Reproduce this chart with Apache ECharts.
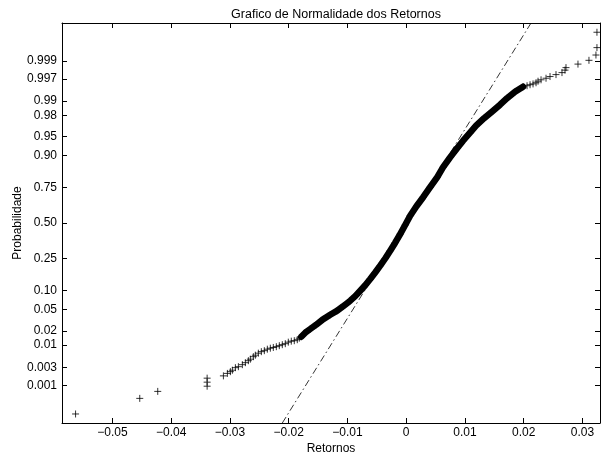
<!DOCTYPE html>
<html>
<head>
<meta charset="utf-8">
<script src="https://cdn.jsdelivr.net/npm/echarts@6/dist/echarts.min.js"></script>
<style>
html,body{margin:0;padding:0;background:#fff;}
#chart{width:601px;height:454px;}
</style>
</head>
<body>
<div id="chart"></div>
<script>
// ---- tick labels ----
const probTicks = [0.001, 0.003, 0.01, 0.02, 0.05, 0.10, 0.25, 0.50, 0.75, 0.90, 0.95, 0.98, 0.99, 0.997, 0.999];
const probLabels = ['0.001', '0.003', '0.01', '0.02', '0.05', '0.10', '0.25', '0.50', '0.75', '0.90', '0.95', '0.98', '0.99', '0.997', '0.999'];
const returnTicks = [-0.05, -0.04, -0.03, -0.02, -0.01, 0, 0.01, 0.02, 0.03];

// ---- data: returns (x) and normal quantiles (y) ----
const lowerTailReturns = [-0.05629, -0.04536, -0.04230, -0.03389, -0.03389, -0.03389,
  -0.03112, -0.03044, -0.02993, -0.02959, -0.02908, -0.02857, -0.02789, -0.02738, -0.02687,
  -0.02653, -0.02602, -0.02568, -0.02517, -0.02466, -0.02415, -0.02364, -0.02313, -0.02262,
  -0.02211, -0.02160, -0.02109, -0.02058, -0.02007, -0.01956, -0.01905, -0.01854, -0.01820];
const lowerTailQuantiles = [-3.638, -3.341, -3.208, -3.109, -3.032, -2.956,
  -2.912, -2.865, -2.832, -2.804, -2.756, -2.737, -2.699, -2.661, -2.623,
  -2.594, -2.547, -2.518, -2.480, -2.451, -2.432, -2.404, -2.385, -2.371,
  -2.356, -2.337, -2.318, -2.299, -2.270, -2.251, -2.242, -2.223, -2.194];

const bodyReturns = [-0.01786, -0.01718, -0.01633, -0.01531, -0.01412, -0.01293, -0.01173, -0.01071,
  -0.00952, -0.00867, -0.00782, -0.00697, -0.00612, -0.00527, -0.00442, -0.00357, -0.00272,
  -0.00187, -0.00102, -0.00017, 0.00068, 0.00175, 0.00289, 0.00408, 0.00527, 0.00629, 0.00748,
  0.00867, 0.00969, 0.01088, 0.01190, 0.01327, 0.01480, 0.01599, 0.01718, 0.01854, 0.01990];
const bodyQuantiles = [-2.166, -2.090, -2.019, -1.937, -1.832, -1.747, -1.670, -1.585,
  -1.480, -1.394, -1.290, -1.185, -1.067, -0.943, -0.813, -0.676, -0.528,
  -0.375, -0.210, -0.038, 0.139, 0.320, 0.491, 0.682, 0.869, 1.063, 1.250,
  1.425, 1.568, 1.720, 1.853, 1.996, 2.139, 2.253, 2.377, 2.501, 2.596];

const upperTailReturns = [0.02058, 0.02109, 0.02160, 0.02211, 0.02245, 0.02296, 0.02381, 0.02449,
  0.02551, 0.02653, 0.02704, 0.02721, 0.02925, 0.03112, 0.03231, 0.03248, 0.03248];
const upperTailQuantiles = [2.615, 2.634, 2.650, 2.672, 2.701, 2.728, 2.758, 2.790,
  2.827, 2.865, 2.912, 2.960, 3.027, 3.099, 3.200, 3.341, 3.634];

// reference normal line (through quartiles), endpoints
const refLineReturns = [-0.02109, 0.02126];
const refLineQuantiles = [-3.81, 3.81];

// ---- inverse normal CDF (axis scale transform for probability ticks) ----
function norminv(p) {
  const a = [-3.969683028665376e+01, 2.209460984245205e+02, -2.759285104469687e+02, 1.383577518672690e+02, -3.066479806614716e+01, 2.506628277459239e+00];
  const b = [-5.447609879822406e+01, 1.615858368580409e+02, -1.556989798598866e+02, 6.680131188771972e+01, -1.328068155288572e+01];
  const c = [-7.784894002430293e-03, -3.223964580411365e-01, -2.400758277161838e+00, -2.549732539343734e+00, 4.374664141464968e+00, 2.938163982698783e+00];
  const d = [7.784695709041462e-03, 3.224671290700398e-01, 2.445134137142996e+00, 3.754408661907416e+00];
  const plow = 0.02425, phigh = 1 - plow;
  let q, r;
  if (p < plow) {
    q = Math.sqrt(-2 * Math.log(p));
    return (((((c[0]*q+c[1])*q+c[2])*q+c[3])*q+c[4])*q+c[5]) / ((((d[0]*q+d[1])*q+d[2])*q+d[3])*q+1);
  } else if (p <= phigh) {
    q = p - 0.5; r = q*q;
    return (((((a[0]*r+a[1])*r+a[2])*r+a[3])*r+a[4])*r+a[5])*q / (((((b[0]*r+b[1])*r+b[2])*r+b[3])*r+b[4])*r+1);
  } else {
    q = Math.sqrt(-2 * Math.log(1 - p));
    return -(((((c[0]*q+c[1])*q+c[2])*q+c[3])*q+c[4])*q+c[5]) / ((((d[0]*q+d[1])*q+d[2])*q+d[3])*q+1);
  }
}
const zTicks = probTicks.map(norminv);

const pairs = (xs, ys) => xs.map((x, i) => [x, ys[i]]);
const allPoints = pairs(lowerTailReturns, lowerTailQuantiles)
  .concat(pairs(bodyReturns, bodyQuantiles))
  .concat(pairs(upperTailReturns, upperTailQuantiles));

const FONT = "'Liberation Sans', Arial, Helvetica, sans-serif";
const fmtX = v => {
  if (Math.abs(v) < 1e-12) return '0';
  return (v < 0 ? '\u2212' : '') + Math.abs(v).toFixed(2);
};
const fmtY = v => {
  for (let i = 0; i < zTicks.length; i++) if (Math.abs(zTicks[i] - v) < 1e-6) return probLabels[i];
  return '';
};

const axisLineStyle = { show: true, onZero: false, lineStyle: { color: '#000', width: 1 } };
const tickStyle = { show: true, inside: true, length: 5, lineStyle: { color: '#000', width: 1 } };

const chart = echarts.init(document.getElementById('chart'), null, { renderer: 'canvas' });
chart.setOption({
  backgroundColor: '#fff',
  animation: false,
  title: {
    text: 'Grafico de Normalidade dos Retornos',
    left: 331, top: 3, textAlign: 'center',
    textStyle: { fontFamily: FONT, fontSize: 12.5, fontWeight: 'normal', color: '#000' }
  },
  grid: { left: 62, right: 1, top: 23, bottom: 31, containLabel: false, outerBoundsMode: 'none' },
  xAxis: [{
    type: 'value', position: 'bottom', min: -0.0586, max: 0.0330,
    name: 'Retornos', nameLocation: 'middle', nameGap: 20, nameMoveOverlap: false,
    nameTextStyle: { fontFamily: FONT, fontSize: 12, color: '#000' },
    axisLine: axisLineStyle,
    axisTick: Object.assign({ customValues: returnTicks }, tickStyle),
    axisLabel: { customValues: returnTicks, formatter: fmtX, margin: 4, fontFamily: FONT, fontSize: 12, color: '#000' },
    splitLine: { show: false }
  }, {
    type: 'value', position: 'top', min: -0.0586, max: 0.0330,
    axisLine: axisLineStyle,
    axisTick: Object.assign({ customValues: returnTicks }, tickStyle),
    axisLabel: { show: false },
    splitLine: { show: false }
  }],
  yAxis: [{
    type: 'value', position: 'left', min: -3.81, max: 3.81,
    name: 'Probabilidade', nameLocation: 'middle', nameGap: 38, nameRotate: 90, nameMoveOverlap: false,
    nameTextStyle: { fontFamily: FONT, fontSize: 12, color: '#000' },
    axisLine: axisLineStyle,
    axisTick: Object.assign({ customValues: zTicks }, tickStyle),
    axisLabel: { customValues: zTicks, formatter: fmtY, margin: 5, fontFamily: FONT, fontSize: 12, color: '#000' },
    splitLine: { show: false }
  }, {
    type: 'value', position: 'right', min: -3.81, max: 3.81,
    axisLine: axisLineStyle,
    axisTick: Object.assign({ customValues: zTicks }, tickStyle),
    axisLabel: { show: false },
    splitLine: { show: false }
  }],
  series: [{
    type: 'line', name: 'ref',
    data: pairs(refLineReturns, refLineQuantiles),
    symbol: 'none', silent: true, z: 1,
    lineStyle: { color: '#000', width: 0.8, type: [7, 3, 1.5, 3] }
  }, {
    type: 'line', name: 'body',
    data: pairs(bodyReturns, bodyQuantiles),
    symbol: 'none', silent: true, z: 2,
    lineStyle: { color: '#000', width: 6.5, cap: 'round', join: 'round' }
  }, {
    type: 'scatter', name: 'pts',
    data: allPoints,
    symbol: 'path://M0,5L10,5M5,0L5,10',
    symbolSize: 7, z: 3,
    itemStyle: { color: 'rgba(0,0,0,0)', borderColor: '#000', borderWidth: 1 }
  }]
});
</script>
</body>
</html>
